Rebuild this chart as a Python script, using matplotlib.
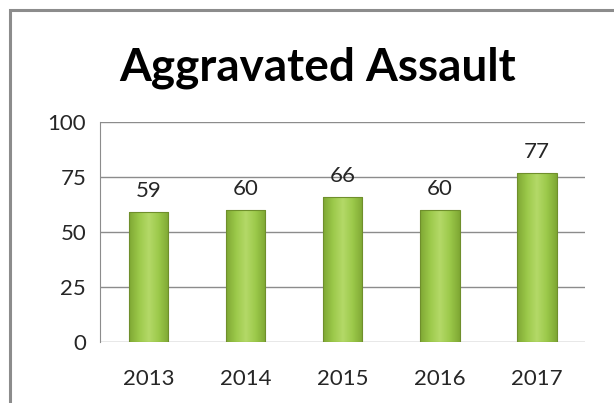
import matplotlib.pyplot as plt
import numpy as np
from matplotlib.colors import LinearSegmentedColormap
from matplotlib.patches import Rectangle

years = ["2013", "2014", "2015", "2016", "2017"]
counts = [59, 60, 66, 60, 77]
yTicks = [0, 25, 50, 75, 100]

plt.rcParams["font.family"] = ["Lato", "DejaVu Sans"]

fig = plt.figure(figsize=(6.14, 4.03), dpi=100)
ax = fig.add_axes([0.163, 0.151, 0.79, 0.546])

# outer chart border (gray, like the Excel frame)
fig.patches.append(Rectangle((10 / 614, -0.05), 1.2, 1 - 10 / 403 + 0.05,
                             transform=fig.transFigure, fill=False,
                             edgecolor="#8c8c8c", linewidth=2.2))

xs = np.arange(len(years))
bars = ax.bar(xs, counts, width=0.41, color="none", edgecolor="#6f8f2c",
              linewidth=0.8, zorder=3)

greenMap = LinearSegmentedColormap.from_list(
    "greens", ["#7fa834", "#9cc94a", "#b4d968", "#9cc94a", "#7fa834"])
grad = np.linspace(0, 1, 64).reshape(1, -1)
for bar in bars:
    x0, y0 = bar.get_x(), bar.get_y()
    img = ax.imshow(grad, cmap=greenMap, aspect="auto", zorder=2,
                    extent=[x0, x0 + bar.get_width(), y0, y0 + bar.get_height()])
    img.set_clip_path(bar)

for bar, value in zip(bars, counts):
    ax.annotate(str(value), (bar.get_x() + bar.get_width() / 2, value),
                xytext=(0, 8), textcoords="offset points", ha="center",
                va="bottom", fontsize=16, color="#262626")

ax.set_xlim(-0.5, len(years) - 0.5)
ax.set_ylim(0, 100)
ax.set_xticks(xs)
ax.set_xticklabels(years)
ax.set_yticks(yTicks)
ax.tick_params(axis="both", length=0, labelsize=16, colors="#262626")
ax.tick_params(axis="x", pad=19)
ax.tick_params(axis="y", pad=10)
ax.grid(axis="y", color="#8c8c8c", linewidth=1)
ax.set_axisbelow(True)
for side in ["top", "right", "bottom"]:
    ax.spines[side].set_visible(False)
ax.spines["left"].set_color("#8c8c8c")

fig.text(0.518, 0.833, "Aggravated Assault", ha="center", va="center",
         fontsize=33, fontweight="bold", color="black")

fig.savefig("out.png", dpi=100)
